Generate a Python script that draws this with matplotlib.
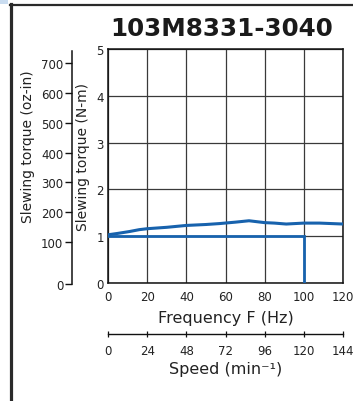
import matplotlib
matplotlib.use("Agg")
import matplotlib.pyplot as plt
from matplotlib.patches import Rectangle
from matplotlib.lines import Line2D

# data
title = "103M8331-3040"
freq_pull = [0, 5, 11, 16, 20, 30, 40, 50, 57, 65, 72, 80, 85, 91, 100, 108, 120]
torque_pull = [1.03, 1.06, 1.10, 1.14, 1.16, 1.19, 1.23, 1.25, 1.27, 1.30, 1.33, 1.29, 1.28, 1.26, 1.28, 1.28, 1.26]
freq_start = [0, 100, 100]
torque_start = [1.0, 1.0, 0.0]

freq_ticks = [0, 20, 40, 60, 80, 100, 120]
nm_ticks = [0, 1, 2, 3, 4, 5]
speed_ticks = [0, 24, 48, 72, 96, 120, 144]
oz_ticks = [0, 100, 200, 300, 400, 500, 600, 700]

W, H = 353, 402
BLUE = "#1762ad"
TXT = "#222222"

fig = plt.figure(figsize=(W / 100, H / 100), dpi=100)

# frame decorations
fig.add_artist(Rectangle((0, 1 - 4.5 / H), 8 / W, 4.5 / H, transform=fig.transFigure,
                         facecolor="#c9dcf0", edgecolor="none"))
fig.add_artist(Line2D([10.5 / W, 10.5 / W], [0, 1 - 5 / H], transform=fig.transFigure,
                      color="#2a2a2a", lw=2.3))
fig.add_artist(Line2D([9.5 / W, 1], [1 - 5.7 / H, 1 - 5.7 / H], transform=fig.transFigure,
                      color="#2a2a2a", lw=1.6))

# main chart
ax = fig.add_axes([108 / W, 1 - 284 / H, 235 / W, 234 / H])
ax.plot(freq_pull, torque_pull, color=BLUE, lw=2.2, solid_capstyle="butt", zorder=3)
ax.plot(freq_start, torque_start, color=BLUE, lw=2.0, solid_joinstyle="miter", zorder=3)
ax.set_xlim(0, 120)
ax.set_ylim(0, 5)
ax.set_xticks(freq_ticks)
ax.set_yticks(nm_ticks)
ax.grid(True, color="#3a3a3a", lw=0.9)
ax.tick_params(axis="both", length=0, labelsize=8.5, labelcolor=TXT)
ax.tick_params(axis="x", pad=5)
ax.tick_params(axis="y", pad=3)
for s in ax.spines.values():
    s.set_color("#111111")
    s.set_linewidth(1.1)
ax.set_xlabel("Frequency F (Hz)", fontsize=11.5, color=TXT, labelpad=5)
ax.set_ylabel("Slewing torque (N-m)", fontsize=10, color=TXT)
ax.yaxis.set_label_coords(90 / W, 1 - 157 / H, transform=fig.transFigure)

# oz-in scale on the far left
oz = fig.add_axes([71.7 / W, 1 - 285 / H, 20 / W, 233.3 / H])
oz.patch.set_visible(False)
oz.set_ylim(-40, 741)
oz.set_yticks([-40] + oz_ticks[1:])
oz.set_yticklabels([str(v) for v in oz_ticks])
oz.set_xticks([])
for k in ("top", "right", "bottom"):
    oz.spines[k].set_visible(False)
oz.spines["left"].set_color("#111111")
oz.spines["left"].set_linewidth(1.1)
oz.tick_params(axis="y", length=5, width=1.0, color="#111111", labelsize=8.5,
               labelcolor=TXT, pad=1)
oz.set_ylabel("Slewing torque (oz-in)", fontsize=10, color=TXT)
oz.yaxis.set_label_coords(35 / W, 1 - 147 / H, transform=fig.transFigure)

# speed scale under the frequency axis
sp = fig.add_axes([108 / W, 1 - 335 / H, 235 / W, 1 / H])
sp.patch.set_visible(False)
sp.set_xlim(0, 144)
sp.set_xticks(speed_ticks)
sp.set_yticks([])
for k in ("top", "right", "left"):
    sp.spines[k].set_visible(False)
sp.spines["bottom"].set_color("#111111")
sp.spines["bottom"].set_linewidth(1.0)
sp.tick_params(axis="x", direction="inout", length=4, width=0.9, color="#111111",
               labelsize=8.5, labelcolor=TXT, pad=5)
sp.set_xlabel("Speed (min\u207b\u00b9)", fontsize=11.5, color=TXT, labelpad=3)

fig.text(221.5 / W, 1 - 29 / H, title, ha="center", va="center",
         fontsize=17.7, fontweight="bold", color="#1a1a1a")

fig.savefig("out.png", dpi=100)
